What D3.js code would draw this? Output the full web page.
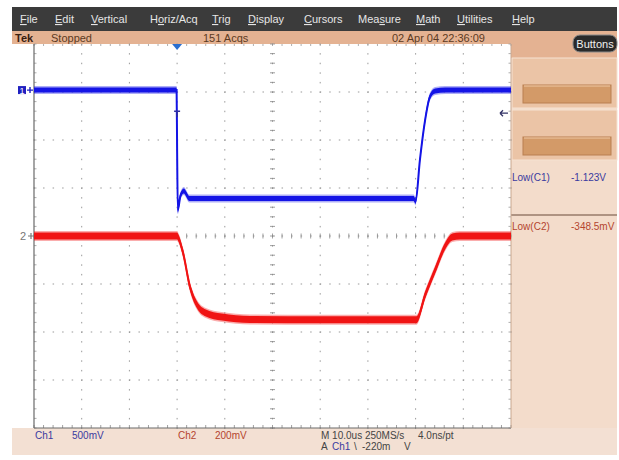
<!DOCTYPE html>
<html>
<head>
<meta charset="utf-8">
<script src="https://cdn.jsdelivr.net/npm/d3@7"></script>
<style>
  body { margin: 0; background: #fff; }
  svg text { font-family: "Liberation Sans", Arial, sans-serif; }
</style>
</head>
<body>
<div id="chart"></div>
<script>
// ---- data ----
// time in microseconds relative to trigger, voltage in volts
const ch1Time  = [-30, -0.1, 0, 0.15, 0.7, 1.4, 2.6, 10, 30, 49.6, 50.0, 50.9, 52.0, 53.0, 54.1, 56.2, 70];
const ch1Volts = [0, 0, -0.6, -1.25, -1.1, -1.05, -1.13, -1.13, -1.13, -1.13, -1.16, -0.73, -0.31, -0.07, -0.01, 0, 0];
const ch2Time  = [-30, 0, 0.2, 1.26, 2.7, 4.2, 5.9, 9.4, 15.3, 30, 50.2, 52.0, 54.1, 56.2, 57.7, 59.3, 70];
const ch2Volts = [0, 0, -0.005, -0.071, -0.212, -0.288, -0.32, -0.338, -0.348, -0.349, -0.349, -0.246, -0.142, -0.042, -0.004, 0, 0];

const menuItems = ["File", "Edit", "Vertical", "Horiz/Acq", "Trig", "Display", "Cursors", "Measure", "Math", "Utilities", "Help"];
const menuUnderline = [0, 0, 0, 1, 0, 0, 0, 3, 0, 0, 0];
const measLabels = ["Low(C1)", "Low(C2)"];
const measValues = ["-1.123V", "-348.5mV"];

const ch1Scale = 0.5, ch1Pos = 3.04;   // V/div, divisions above center
const ch2Scale = 0.2, ch2Pos = 0;

const W = 619, H = 460;
const grat = { left: 34, right: 511, top: 44, bottom: 428 };

const svg = d3.select("#chart").append("svg")
  .attr("width", W).attr("height", H);

// scales: time (us) and divisions
const x = d3.scaleLinear().domain([-30, 70]).range([grat.left, grat.right]);
const y = d3.scaleLinear().domain([-4, 4]).range([grat.bottom, grat.top]);

// ---- chrome ----
svg.append("rect").attr("x", 12).attr("y", 7).attr("width", 605).attr("height", 24).attr("fill", "#3b3b3b");
svg.append("rect").attr("x", 12).attr("y", 31).attr("width", 605).attr("height", 13).attr("fill", "#e4b292");
svg.append("rect").attr("x", 12).attr("y", 44).attr("width", 22).attr("height", 384).attr("fill", "#fff");
svg.append("rect").attr("x", 511).attr("y", 44).attr("width", 106).attr("height", 384).attr("fill", "#f3dccb");
svg.append("rect").attr("x", 511).attr("y", 44).attr("width", 106).attr("height", 14).attr("fill", "#e4b292");
svg.append("rect").attr("x", 12).attr("y", 428).attr("width", 605).attr("height", 27).attr("fill", "#f3e0d3");

const menuX = [20, 55, 91, 150, 212, 248, 304, 358, 416, 457, 512];
menuItems.forEach((m, i) => {
  const t = svg.append("text").attr("x", menuX[i]).attr("y", 23)
    .attr("font-size", 11).attr("fill", "#e6e6e6");
  const k = menuUnderline[i];
  if (k > 0) t.append("tspan").text(m.slice(0, k));
  t.append("tspan").attr("text-decoration", "underline").text(m[k]);
  t.append("tspan").text(m.slice(k + 1));
});

const status = svg.append("g").attr("font-size", 11);
status.append("text").attr("x", 15).attr("y", 42).attr("font-weight", "bold").attr("fill", "#3a2010").text("Tek");
status.append("text").attr("x", 51).attr("y", 42).attr("fill", "#5c3a22").text("Stopped");
status.append("text").attr("x", 203).attr("y", 42).attr("fill", "#5c3a22").text("151 Acqs");
status.append("text").attr("x", 392).attr("y", 42).attr("fill", "#5c3a22").text("02 Apr 04 22:36:09");

svg.append("rect").attr("x", 573).attr("y", 35).attr("width", 44).attr("height", 17).attr("rx", 7)
  .attr("fill", "#2a2a2a").attr("stroke", "#8a8a8a").attr("stroke-width", 1);
svg.append("text").attr("x", 595).attr("y", 48).attr("text-anchor", "middle").attr("font-size", 11)
  .attr("fill", "#f0f0f0").text("Buttons");

// right panel button slots
[58, 110].forEach(top => {
  svg.append("rect").attr("x", 512).attr("y", top).attr("width", 105).attr("height", 50)
    .attr("fill", "#ebc4a6").attr("stroke", "#f6e2d2").attr("stroke-width", 1);
  svg.append("rect").attr("x", 523).attr("y", top + 27).attr("width", 88).attr("height", 18)
    .attr("fill", "#d39a68").attr("stroke", "#b97f50").attr("stroke-width", 1);
  svg.append("line").attr("x1", 524).attr("x2", 610).attr("y1", top + 28).attr("y2", top + 28)
    .attr("stroke", "#f0c8a4");
});

// measurements
svg.append("line").attr("x1", 511).attr("x2", 617).attr("y1", 215).attr("y2", 215)
  .attr("stroke", "#6b4a3a").attr("stroke-width", 1.2);
const measColors = ["#3a3aa0", "#b4442e"];
measLabels.forEach((m, i) => {
  const yy = 181 + i * 49;
  svg.append("text").attr("x", 512).attr("y", yy).attr("font-size", 10).attr("fill", measColors[i]).text(m);
  svg.append("text").attr("x", 571).attr("y", yy).attr("font-size", 10).attr("fill", measColors[i]).text(measValues[i]);
});

// bottom readouts
const bot = svg.append("g").attr("font-size", 10);
bot.append("text").attr("x", 35).attr("y", 439).attr("fill", "#3a3aa0").text("Ch1");
bot.append("text").attr("x", 72).attr("y", 439).attr("fill", "#3a3aa0").text("500mV");
bot.append("text").attr("x", 178).attr("y", 439).attr("fill", "#b4442e").text("Ch2");
bot.append("text").attr("x", 215).attr("y", 439).attr("fill", "#b4442e").text("200mV");
bot.append("text").attr("x", 321).attr("y", 439).attr("fill", "#444").text("M 10.0us 250MS/s");
bot.append("text").attr("x", 418).attr("y", 439).attr("fill", "#444").text("4.0ns/pt");
bot.append("text").attr("x", 321).attr("y", 450).attr("fill", "#444").text("A");
bot.append("text").attr("x", 332).attr("y", 450).attr("fill", "#3a3aa0").text("Ch1");
bot.append("text").attr("x", 354).attr("y", 450).attr("fill", "#444").text("\\");
bot.append("text").attr("x", 362).attr("y", 450).attr("fill", "#444").text("-220m");
bot.append("text").attr("x", 404).attr("y", 450).attr("fill", "#444").text("V");

// ---- graticule ----
const g = svg.append("g");
g.append("rect").attr("x", grat.left).attr("y", grat.top)
  .attr("width", grat.right - grat.left).attr("height", grat.bottom - grat.top).attr("fill", "#fff");

const majorX = d3.range(-30, 71, 10);
const majorY = d3.range(-4, 5, 1);
const minorX = d3.range(-30, 70.01, 2);
const minorY = d3.range(-4, 4.01, 0.2);
const dot = "#9a9a9a";

// dotted grid lines
majorX.slice(1, -1).forEach(t => {
  minorY.forEach(d => g.append("rect").attr("x", x(t) - 0.5).attr("y", y(d) - 0.5)
    .attr("width", 1).attr("height", 1.5).attr("fill", dot));
});
majorY.slice(1, -1).forEach(d => {
  minorX.forEach(t => g.append("rect").attr("x", x(t) - 0.5).attr("y", y(d) - 0.5)
    .attr("width", 1.5).attr("height", 1).attr("fill", dot));
});
// center crosshair ticks
minorX.forEach(t => g.append("line").attr("x1", x(t)).attr("x2", x(t))
  .attr("y1", y(0) - 2.5).attr("y2", y(0) + 2.5).attr("stroke", "#888").attr("stroke-width", 0.8));
minorY.forEach(d => g.append("line").attr("x1", x(20) - 2.5).attr("x2", x(20) + 2.5)
  .attr("y1", y(d)).attr("y2", y(d)).attr("stroke", "#888").attr("stroke-width", 0.8));
// edge ticks
minorX.forEach(t => {
  g.append("line").attr("x1", x(t)).attr("x2", x(t)).attr("y1", grat.top).attr("y2", grat.top + 2)
    .attr("stroke", "#999").attr("stroke-width", 0.8);
  g.append("line").attr("x1", x(t)).attr("x2", x(t)).attr("y1", grat.bottom - 3).attr("y2", grat.bottom)
    .attr("stroke", "#888").attr("stroke-width", 0.8);
});
minorY.forEach(d => {
  g.append("line").attr("x1", grat.left).attr("x2", grat.left + 2.5).attr("y1", y(d)).attr("y2", y(d))
    .attr("stroke", "#999").attr("stroke-width", 0.8);
  g.append("line").attr("x1", grat.right - 2.5).attr("x2", grat.right).attr("y1", y(d)).attr("y2", y(d))
    .attr("stroke", "#999").attr("stroke-width", 0.8);
});
g.append("line").attr("x1", grat.left).attr("x2", grat.left).attr("y1", grat.top).attr("y2", grat.bottom)
  .attr("stroke", "#6a6a6a").attr("stroke-width", 1.2);
g.append("line").attr("x1", grat.left).attr("x2", grat.right).attr("y1", grat.bottom).attr("y2", grat.bottom)
  .attr("stroke", "#6a6a6a").attr("stroke-width", 1.2);
g.append("line").attr("x1", grat.right).attr("x2", grat.right).attr("y1", grat.top).attr("y2", grat.bottom)
  .attr("stroke", "#c9a890").attr("stroke-width", 1);

// ---- traces ----
function drawTrace(times, volts, scale, pos, color, band) {
  const pts = times.map((t, i) => [x(t), y(volts[i] / scale + pos)]);
  const area = d3.area().x(d => d[0]).y0(d => d[1] - band / 2).y1(d => d[1] + band / 2)
    .curve(d3.curveMonotoneX);
  const line = d3.line().x(d => d[0]).y(d => d[1]).curve(d3.curveMonotoneX);
  // faint outer fringe for the noise band
  svg.append("path").attr("d", d3.area().x(d => d[0]).y0(d => d[1] - band / 2 - 1.5)
    .y1(d => d[1] + band / 2 + 1.5).curve(d3.curveMonotoneX)(pts)).attr("fill", color).attr("opacity", 0.35);
  svg.append("path").attr("d", area(pts)).attr("fill", color);
  svg.append("path").attr("d", line(pts)).attr("fill", "none").attr("stroke", color).attr("stroke-width", 2);
}
drawTrace(ch2Time, ch2Volts, ch2Scale, ch2Pos, "#f01414", 7);
drawTrace(ch1Time, ch1Volts, ch1Scale, ch1Pos, "#1414e6", 5);

// ---- markers ----
const x0 = x(0);
svg.append("path").attr("d", `M${x0 - 5},${grat.top} L${x0 + 5},${grat.top} L${x0},${grat.top + 6} Z`)
  .attr("fill", "#2a6fd0");
const trigY = y(-0.22 / ch1Scale + ch1Pos);
svg.append("path").attr("d", `M${x0 - 3},${trigY} L${x0 + 3},${trigY} M${x0},${trigY} L${x0},${trigY + 6}`)
  .attr("stroke", "#3030a0").attr("stroke-width", 1.6).attr("fill", "none");
svg.append("path").attr("d", `M${grat.right - 11},${trigY + 2} L${grat.right - 3},${trigY + 2} M${grat.right - 11},${trigY + 2} L${grat.right - 8},${trigY - 1} M${grat.right - 11},${trigY + 2} L${grat.right - 8},${trigY + 5}`)
  .attr("stroke", "#333366").attr("stroke-width", 1.3).attr("fill", "none");

const y1 = y(ch1Pos);
svg.append("rect").attr("x", 18).attr("y", y1 - 4).attr("width", 8).attr("height", 8).attr("fill", "#2020c0");
svg.append("text").attr("x", 22).attr("y", y1 + 3.5).attr("text-anchor", "middle").attr("font-size", 9)
  .attr("fill", "#fff").text("1");
svg.append("path").attr("d", `M27,${y1} L33,${y1} M30,${y1 - 3} L30,${y1 + 3}`)
  .attr("stroke", "#2020c0").attr("stroke-width", 1.4);
const y2 = y(ch2Pos);
svg.append("text").attr("x", 23).attr("y", y2 + 4).attr("text-anchor", "middle").attr("font-size", 11)
  .attr("fill", "#777").text("2");
svg.append("path").attr("d", `M28,${y2} L34,${y2} M31,${y2 - 3} L31,${y2 + 3}`)
  .attr("stroke", "#777").attr("stroke-width", 1.2);
</script>
</body>
</html>
